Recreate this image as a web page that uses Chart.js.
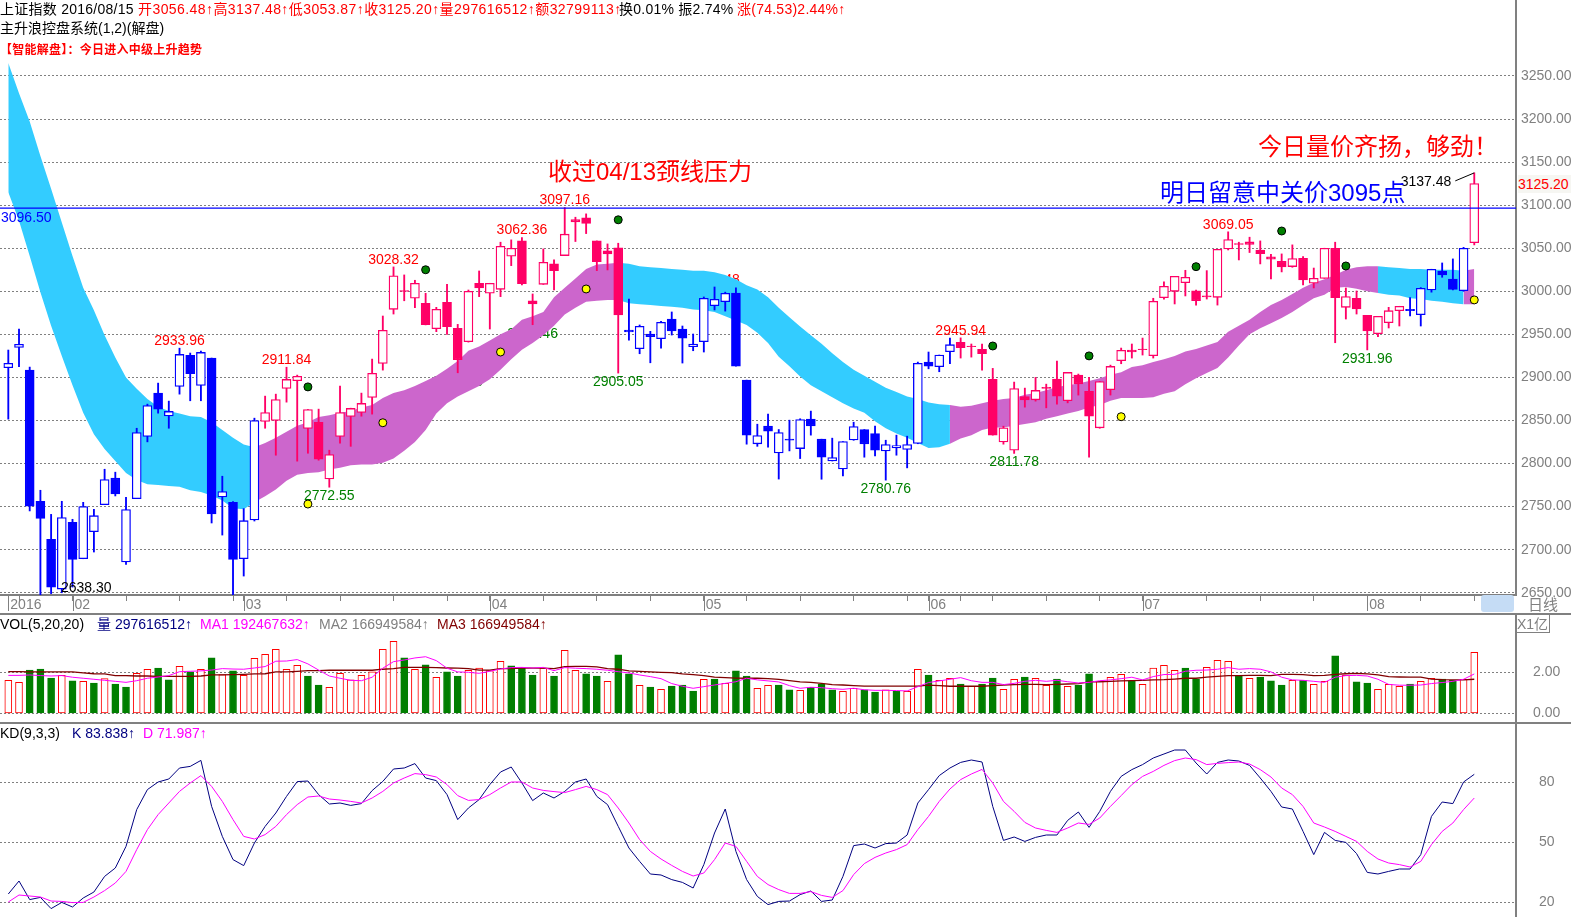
<!DOCTYPE html>
<html>
<head>
<meta charset="utf-8">
<title>上证指数 2016/08/15</title>
<script src="https://cdn.jsdelivr.net/npm/chart.js@4"></script>
<style>
html, body { margin: 0; padding: 0; background: #fff; overflow: hidden; }
body { width: 1571px; height: 917px; position: relative; font: 14px "Liberation Sans", "Noto Sans CJK SC", sans-serif; }
canvas { position: absolute; left: 0; display: block; }
.t { position: absolute; white-space: pre; line-height: 18px; height: 18px; color: #000; }
.big { font-size: 24px; line-height: 30px; height: 30px; }
.red { color: #f00; } .blue { color: #00f; } .navy { color: #000080; } .mag { color: #f0f; }
.gray { color: #808080; } .brown { color: #800000; }
.rule { position: absolute; background: #808080; }
</style>
</head>
<body>
<canvas id="mainChart" width="1571" height="614" style="top:0"></canvas>
<canvas id="volChart" width="1571" height="109" style="top:614px"></canvas>
<canvas id="kdChart" width="1571" height="194" style="top:723px"></canvas>

<div class="rule" style="left:0;top:613px;width:1571px;height:2px"></div>
<div class="rule" style="left:0;top:722px;width:1571px;height:2px"></div>
<div style="position:absolute;left:1481px;top:595px;width:33px;height:17px;background:#c5dcf5;border-radius:3px"></div>

<div class="t" style="left:0;top:0;letter-spacing:.25px">上证指数 2016/08/15</div>
<div class="t red" style="left:138px;top:0;letter-spacing:.42px">开3056.48↑高3137.48↑低3053.87↑收3125.20↑量297616512↑额32799113↑</div>
<div class="t" style="left:619px;top:0;letter-spacing:.25px">换0.01% 振2.74%</div>
<div class="t red" style="left:737px;top:0;letter-spacing:.25px">涨(74.53)2.44%↑</div>
<div class="t" style="left:0;top:19px">主升浪控盘系统(1,2)(解盘)</div>
<div class="t red" style="left:0;top:41px;font-size:12px;font-weight:bold;letter-spacing:.25px">【智能解盘】：今日进入中级上升趋势</div>

<div class="t big red" style="left:548px;top:157px">收过04/13颈线压力</div>
<div class="t big red" style="left:1258px;top:132px">今日量价齐扬，够劲！</div>
<div class="t big blue" style="left:1160px;top:178px">明日留意中关价3095点</div>
<div class="t red" style="left:1518px;top:175px;width:53px;background:#f6f6f2">3125.20</div>
<div class="t gray" style="left:1528px;top:596px;font-size:15px">日线</div>
<div class="t gray" style="left:1517px;top:615px;height:17px;width:32px;border:1px solid #808080;border-left:0;border-top:0">X1亿</div>

<div class="t" style="left:0;top:615px">VOL(5,20,20)</div>
<div class="t navy" style="left:97px;top:615px">量 297616512↑</div>
<div class="t mag" style="left:200px;top:615px">MA1 192467632↑</div>
<div class="t gray" style="left:319px;top:615px">MA2 166949584↑</div>
<div class="t brown" style="left:437px;top:615px">MA3 166949584↑</div>
<div class="t" style="left:0;top:724px">KD(9,3,3)</div>
<div class="t navy" style="left:72px;top:724px">K 83.838↑</div>
<div class="t mag" style="left:143px;top:724px">D 71.987↑</div>

<script>
// daily candles, index 0 = first session of 2016
var opens = [2911.2,2934.9,2908.5,2756.2,2712,2654.3,2731.8,2689.5,2720.9,2752.3,
  2783,2685.7,2759.3,2831.4,2881.8,2855.4,2889.5,2925.6,2890.7,2922.5,
  2761.2,2755,2689.5,2734.5,2848.8,2850,2887.2,2896.1,2840.7,2848,
  2782.2,2831.4,2854.7,2859.3,2876.7,2916.3,2979.1,3000.8,2991.9,2986,
  2956.6,2987.2,2957,2941.5,3009.3,2997.7,3002.3,3040.7,3058.5,2988.8,
  3008.1,3031.8,3041.5,3083.3,3085.3,3058.5,3046.9,3050.4,2955,2933.3,
  2950.4,2945,2967.8,2956.2,2935.7,2941.5,2983.3,2988,2998,2896.9,
  2822.9,2843.4,2812.4,2828.3,2817.4,2851.6,2828.3,2803.1,2793.8,2827.5,
  2839.5,2834.9,2814.7,2818.2,2816.3,2823.3,2917.8,2912.4,2929.8,2940.7,
  2936.4,2932.6,2897.7,2825.2,2815.5,2877.9,2874,2888.4,2898,2872.9,
  2902.7,2884,2841.5,2885.7,2919.4,2931.8,2933,2925.2,2992.6,3000,
  3010,3000.4,2994.6,2993,3049.2,3055.4,3057.4,3048,3039.9,3034.9,
  3028.7,3038.4,3009.3,3015,3050,2981.4,2991.9,2972,2950.8,2963.6,
  2977.5,2979,2972.9,3001.6,3023.6,3014.3,3000.8,3056.48];
var closes = [2916.3,2938.4,2750.4,2736.4,2656.6,2737.2,2688.8,2750,2739.5,2781.4,
  2764.7,2746.5,2836,2867.4,2863.2,2860.5,2926.7,2904.3,2929,2741.5,
  2767.4,2688.8,2733.7,2850,2859.3,2874.4,2897.7,2901.2,2862.8,2805,
  2810.5,2859.3,2864,2869.8,2904.7,2954.7,3018.1,3000,3009.3,2961.2,
  2979,2959,2920.5,3000,3003.9,3009.3,3052.3,3050,3008.9,2985.3,
  3033.7,3024,3066.3,3080.6,3078.7,3034.5,3043.4,2972.5,2952.7,2959.3,
  2947.3,2964,2953.9,2945.7,2938.8,2991.9,2990.7,2997.7,2913.2,2833,
  2832.6,2837.6,2836,2827.1,2851.2,2843.8,2807.4,2807,2825.6,2843,
  2822.9,2815.5,2822.1,2821,2822.1,2916.3,2913.2,2926,2938,2934.5,
  2935.7,2927.5,2833,2841.5,2887.2,2874,2884.9,2887.2,2878.3,2905.8,
  2892.6,2855,2895.3,2912.8,2931.4,2929.5,2932.2,2988.4,3005.8,3017.4,
  3016.3,2989,2993.4,3048.8,3060,3054.3,3054.3,3043.8,3037.2,3028.3,
  3038,3013.2,3015,3050,2992.6,2993.8,2979.5,2953.9,2970.9,2977.5,
  2982.6,2977.5,3003.5,3025.6,3019,3002.3,3050,3125.2];
var highs = [2931.8,2956.2,2912,2769,2741,2756.2,2735.3,2755,2746.9,2793.4,
  2790,2760.9,2841,2869,2893.4,2872.5,2933.96,2928.3,2930.6,2922.5,
  2785.3,2755.8,2747.7,2852.7,2878.3,2880.6,2911.84,2902.7,2862.8,2863.2,
  2815.5,2889.9,2864.3,2881.8,2921.3,2971.3,3028.32,3019,3012.8,2997.7,
  2981.4,3008,2961.6,3001.5,3023.6,3009.3,3057,3059.7,3062.36,2996.9,
  3049.2,3036.4,3097.16,3086,3089.9,3058.5,3055,3055.8,2991,2960.9,
  2953.5,2965,2976,2959.7,2950.4,2993.4,3005,2999,3003.9,2896.9,
  2845.7,2857.4,2839.5,2850.4,2852,2860.9,2828.3,2829.5,2825.6,2848,
  2839.5,2843.4,2827.1,2833,2831.8,2917.8,2929.5,2926,2945.7,2945.94,
  2938.8,2938.8,2910.5,2843.4,2894.6,2887.6,2900,2892.2,2919,2905.8,
  2903.9,2900,2895.3,2914.3,2934.1,2938.8,2945.7,2991.9,3010.9,3017.4,
  3024.4,3001.5,3024,3048.8,3069.05,3057,3062.8,3058.5,3043,3043.4,
  3053.9,3040.3,3027,3050,3057,3003.9,3000.4,2972,2970.9,2981.4,
  2982.6,2992.6,3004.3,3025.6,3032.9,3037.6,3051,3137.48];
var lows = [2851.6,2912.4,2745,2638.3,2649,2650,2656.6,2689.5,2697.3,2752.3,
  2762.4,2683,2759.3,2825.2,2858.5,2841,2880.6,2872.9,2872.9,2731,
  2717,2643,2669.4,2733.3,2841,2809.7,2871.3,2802.8,2812,2803.9,
  2772.55,2823.6,2820,2855,2857.4,2908.5,2973.6,2989,2981,2961,
  2953.1,2950,2905.4,2941,2993.8,2956.2,2993.8,3029.8,3007.4,2961.2,
  3008,3001.6,3041.5,3057.8,3067,3024,3024.8,2905.05,2943.4,2927.5,
  2917,2934.1,2949.2,2916.7,2931,2929.5,2978.3,2977,2913,2822.5,
  2820,2819,2782,2814.7,2805.8,2833,2781.8,2803,2785.7,2827,
  2807.4,2808.9,2780.76,2809.7,2795,2823,2910,2906.6,2915.9,2922.5,
  2923.6,2908.5,2833,2822.5,2811.78,2865.5,2872.5,2864.7,2869,2870.5,
  2879.5,2807.4,2841,2879.5,2915.9,2922.5,2926,2922.5,2991,2985.3,
  2994.6,2984,2991,2984,3048,3036.4,3045,3031.8,3014.3,3022.5,
  3027.9,3007.4,3003.9,3015,2940.3,2967.8,2973.6,2931.96,2947.3,2957.4,
  2959.7,2971.3,2959.7,2999,3016.3,3001.6,3000,3053.87];

// the wide trend band
var bandTop = [3265,3230,3197,3157,3119,3080,3041,3004,2978,2949,2923,2900,2887,2875,2866,2861,2858,2855,2854,2848,
  2839,2830,2822,2819,2824,2830,2837,2844,2848,2854,2856,2859,2861,2865,2868,2876,2882,2885,2890,2896,
  2902,2910,2919,2931,2936,2943,2950,2956,2967,2971,2976,2993,3004,3015,3026,3031,3032,3033,3032,3029,
  3028,3027,3026,3025,3024,3024,3022,3019,3014,3007,3002,2993,2981,2970,2959,2949,2939,2928,2918,2909,
  2902,2895,2888,2883,2878,2875,2871,2869,2868,2866,2867,2870,2873,2875,2876,2880,2882,2885,2889,2891,
  2893,2896,2899,2903,2906,2912,2914,2918,2921,2925,2930,2933,2937,2941,2953,2960,2967,2976,2984,2990,
  2997,3004,3010,3014,3019,3025,3028,3029,3029,3028,3027,3026,3026,3025,3025,3025,3024,3026];
var bandBot = [3115,3082,3041,2999,2960,2925,2891,2859,2834,2817,2803,2789,2781,2776,2775,2774,2773,2769,2767,2763,
  2757,2748,2747,2755,2762,2770,2780,2787,2789,2790,2793,2795,2798,2799,2799,2801,2806,2815,2825,2839,
  2858,2870,2878,2884,2890,2898,2909,2921,2932,2940,2949,2960,2973,2981,2988,2989,2990,2990,2986,2985,
  2984,2983,2982,2981,2979,2978,2976,2971,2966,2961,2952,2940,2924,2913,2901,2891,2884,2877,2870,2864,
  2859,2849,2841,2835,2830,2824,2818,2819,2823,2829,2833,2839,2842,2842,2844,2846,2848,2852,2855,2858,
  2861,2865,2868,2873,2876,2876,2876,2877,2881,2884,2892,2899,2905,2911,2923,2937,2950,2957,2963,2969,
  2976,2984,2992,2996,3004,3005,3003,3000,2998,2996,2995,2992,2991,2989,2988,2986,2985,2985];
var bandRanges = [[0,23,'#33ccff'],[23,57,'#cc66cc'],[57,88,'#33ccff'],[88,128,'#cc66cc'],[128,136,'#33ccff'],[136,137,'#cc66cc']];
var candleRanges = [[0,23,'#0000ff'],[24,57,'#ff0066'],[58,88,'#0000ff'],[89,130,'#ff0066'],[131,136,'#0000ff'],[137,137,'#ff0066']];

var greenDotIdx = [28,39,57,92,101,111,119,125];
var greenDotVal = [2889,3025,3083,2936.5,2925,3028.6,3070,3029.4];
var yellowDotIdx = [28,35,46,54,104,137];
var yellowDotVal = [2753,2847.4,2929.5,3002.7,2854.4,2990];
var pivotLine = 3096.5;

var highLabelIdx = [16,26,36,48,52,66,89,114];
var highLabelText = ['2933.96','2911.84','3028.32','3062.36','3097.16','3005.48','2945.94','3069.05'];
var lowLabelIdx = [30,42,49,57,82,94,127];
var lowLabelText = ['2772.55','2905.40','2961.46','2905.05','2780.76','2811.78','2931.96'];

// volume, in 100 million
var volumes = [1.61,1.51,2.11,2.16,1.72,1.85,1.58,1.56,1.48,1.69,1.43,1.28,1.95,2.15,2.21,1.63,2.29,2.02,2.15,2.70,
  1.89,2.07,1.85,2.68,2.88,3.12,2.15,2.34,1.82,1.38,1.27,1.95,1.63,1.85,2.02,3.12,3.51,2.70,2.15,2.36,
  1.76,2.02,1.82,2.10,2.20,2.08,2.54,2.31,2.20,1.87,2.20,1.82,3.07,2.10,1.92,1.82,1.56,2.85,1.92,1.37,
  1.28,1.17,1.33,1.38,1.09,1.66,1.67,1.46,2.07,1.82,1.22,1.37,1.38,1.14,1.12,1.27,1.43,1.14,1.07,1.22,
  1.14,1.04,1.14,1.09,1.07,2.15,1.87,1.61,1.71,1.43,1.32,1.43,1.72,1.17,1.66,1.77,1.71,1.37,1.67,1.32,
  1.38,1.92,1.56,1.76,1.90,1.56,1.41,2.20,2.34,2.10,2.21,1.67,2.24,2.59,2.54,1.82,1.71,1.77,1.58,1.38,
  1.61,1.61,1.41,1.56,2.80,1.85,1.53,1.48,1.17,1.41,1.32,1.43,1.56,1.71,1.67,1.61,1.66,2.98];
var volUp = [1,1,0,0,0,1,0,1,0,1,0,0,1,1,0,0,1,0,1,0,1,0,1,1,1,1,1,1,0,0,1,1,1,1,1,1,1,0,1,0,1,0,0,1,1,1,1,0,
  0,0,1,0,1,1,0,0,1,0,0,1,0,1,0,0,0,1,0,1,0,0,1,1,0,0,1,0,0,0,1,1,0,0,1,0,1,1,0,1,1,0,1,0,0,1,1,0,1,
  1,0,1,0,0,1,1,1,0,1,1,1,1,0,0,1,1,1,0,1,0,0,0,1,0,1,1,0,1,0,0,1,1,1,0,1,1,0,0,1,1];
var ma1 = [1.85,1.85,1.87,1.84,1.82,1.84,1.76,1.71,1.66,1.61,1.56,1.51,1.59,1.71,1.77,1.84,2.03,2.05,2.07,2.11,
  2.18,2.16,2.15,2.21,2.28,2.54,2.55,2.62,2.41,2.11,1.82,1.71,1.61,1.59,1.76,2.20,2.52,2.60,2.70,2.76,
  2.57,2.20,2.02,2.00,1.95,2.05,2.16,2.23,2.24,2.21,2.24,2.08,2.23,2.20,2.18,2.15,2.10,2.03,1.97,1.87,
  1.79,1.69,1.45,1.32,1.22,1.30,1.38,1.46,1.54,1.71,1.63,1.58,1.53,1.35,1.22,1.27,1.25,1.20,1.17,1.22,
  1.15,1.12,1.12,1.11,1.09,1.30,1.50,1.58,1.66,1.74,1.59,1.51,1.51,1.40,1.46,1.56,1.61,1.56,1.61,1.54,
  1.48,1.51,1.59,1.63,1.69,1.76,1.63,1.79,1.89,1.90,2.05,2.10,2.11,2.15,2.23,2.15,2.18,2.15,2.02,1.76,
  1.63,1.61,1.56,1.51,1.76,1.84,1.85,1.82,1.66,1.41,1.37,1.37,1.38,1.45,1.50,1.56,1.66,1.92];
var ma3 = [2.03,2.03,2.02,2.02,2.02,2.02,2.02,1.97,1.93,1.92,1.84,1.84,1.82,1.82,1.80,1.80,1.80,1.80,1.82,1.87,
  1.87,1.89,1.90,1.92,1.93,2.02,2.02,2.05,2.08,2.08,2.10,2.11,2.10,2.10,2.10,2.15,2.18,2.24,2.24,2.24,
  2.23,2.21,2.20,2.18,2.11,2.11,2.18,2.18,2.21,2.20,2.20,2.18,2.28,2.29,2.29,2.26,2.18,2.15,2.07,2.05,
  2.02,2.00,1.98,1.92,1.89,1.84,1.76,1.74,1.72,1.71,1.71,1.69,1.66,1.59,1.53,1.51,1.46,1.40,1.38,1.35,
  1.33,1.33,1.33,1.33,1.33,1.33,1.37,1.35,1.32,1.32,1.32,1.32,1.35,1.38,1.40,1.41,1.41,1.40,1.41,1.43,
  1.45,1.53,1.54,1.56,1.58,1.59,1.61,1.63,1.64,1.67,1.71,1.71,1.76,1.80,1.84,1.84,1.85,1.85,1.84,1.90,
  1.90,1.89,1.84,1.85,1.90,1.93,1.95,1.92,1.87,1.79,1.77,1.76,1.76,1.67,1.64,1.63,1.63,1.66];

var kLine = [24.0,30.5,21.2,22.3,16.7,19.8,17.5,22,25,32.8,37,47.8,66.2,76.2,80,81.5,87,87.8,90.8,67.8,
  52.8,41.2,38.2,49.5,57.8,64.5,72.8,80.2,80.5,73.7,69,69.5,68.3,69.2,75.7,80.3,86.5,87,89.2,82,
  80.7,73.7,61.2,67,71.2,78.7,85,87.5,79.5,70.7,74.5,72,75.3,80,81.5,72.8,68.7,57.8,47,40.3,
  34,33.5,31.2,29.8,27,38.7,54.5,66.5,45.3,31.2,22.8,18.7,20.3,20.5,23.7,25.5,20.3,21,32.8,48.2,
  49,47,49.2,49.5,53.5,69.5,76.2,83.2,87,89.8,91,90,67.8,50.8,52.5,50.3,52.3,53.5,53.5,60.8,
  65,57.3,65.3,75.3,82.8,86.2,88.7,92,94,96,96,89.5,84,89.8,91,90.5,88.3,82,75.3,67.5,
  66.5,55.3,43.7,54.8,50.8,49.8,44.2,34.8,34,35.3,36.5,36.5,43.7,62.8,70,69.2,80,83.84];
var dLine = [20,23.5,23,22.5,20.5,20.3,19.7,19.8,22.5,25.7,29.5,35.3,46.2,56.2,63.7,69.5,75.3,79.5,83.2,77.8,
  70.3,61.2,52.8,51.5,53.7,57.8,63.7,68.7,72.5,73,71.5,71,70.3,69.5,72,75.3,79.5,82,84.2,83.7,
  82.5,78.7,73.2,70.8,71.2,73.7,77,80,80,77,75.8,75.2,74.7,76.2,77.8,76.2,73.7,67,59.5,51.2,
  45.3,41.5,38.3,35.3,33,34.5,41.2,49.5,47.8,40.3,32.8,28.7,26.2,24.3,24.3,25.2,23.3,22.3,25.7,33.7,
  39.2,42.3,44.5,46.2,48.7,56.2,62.8,70.3,76.5,81.2,84,86.3,79.5,70.3,65.3,59.8,57,55.8,54.8,57,
  59.5,58.8,62,67.8,73.2,78.7,82.8,85.3,88.3,90.7,92,91.2,88.7,89.3,89.7,90,89,86.2,82.5,77,
  73.7,67.8,59.5,57.5,55.3,52.8,50.3,45.3,41.5,39.5,38.7,37.5,40.3,48.7,55.3,59.5,66.2,71.99];

// axes
var priceTicks = [2650,2700,2750,2800,2850,2900,2950,3000,3050,3100,3150,3200,3250];
var volTicks = [0,2];
var kdTicks = [20,50,80];
var monthIdx = [0,6,22,45,65,86,106,127];
var monthText = ['2016','02','03','04','05','06','07','08'];
var weekIdx = [1,11,16,21,26,31,36,41,50,55,60,69,74,79,84,89,92,97,102,112,117,122,132,137];

var grayC = '#808080';
var axisFont = { family: '"Liberation Sans", sans-serif', size: 14 };
var xMin = -0.776, xMax = 140.9;

function colorFor(ranges, i) {
    for (var r = 0; r < ranges.length; r++) {
        if (i >= ranges[r][0] && i <= ranges[r][1]) return ranges[r][2];
    }
    return '#000';
}
function pts(arr) {
    return arr.map(function (v, i) { return { x: i, y: v }; });
}
// the plot has to fill its canvas, so drop the room chart.js keeps for end labels
function noPadding(s) {
    s.paddingTop = 0; s.paddingBottom = 0; s.paddingLeft = 0; s.paddingRight = 0;
}
function rightAxis(min, max, ticks, pad, fmt) {
    return {
        position: 'right', min: min, max: max,
        afterBuildTicks: function (s) { s.ticks = ticks.map(function (v) { return { value: v }; }); },
        afterFit: function (s) { s.width = 55; noPadding(s); },
        grid: { color: grayC, drawTicks: false },
        border: { color: grayC, width: 2, dash: [2, 2] },
        ticks: { color: grayC, font: axisFont, padding: pad, autoSkip: false, callback: fmt }
    };
}
var hiddenX = { type: 'linear', min: xMin, max: xMax, offset: false, display: false };
var baseOpts = {
    responsive: false, animation: false, devicePixelRatio: 1, events: [],
    layout: { padding: 0, autoPadding: false },
    plugins: { legend: { display: false }, tooltip: { enabled: false } }
};

// ---- candles + band ----
var datasets = [];
bandRanges.forEach(function (r) {
    var s = r[0], e = r[1] + 1;
    datasets.push({ type: 'line', data: pts(bandTop).slice(s, e), backgroundColor: r[2], borderWidth: 0, pointRadius: 0, tension: 0, fill: '+1', order: 10 });
    datasets.push({ type: 'line', data: pts(bandBot).slice(s, e), borderWidth: 0, pointRadius: 0, tension: 0, fill: false, order: 10 });
});
var candleColors = opens.map(function (o, i) { return colorFor(candleRanges, i); });
datasets.push({
    type: 'bar', grouped: false, barThickness: 1.2, order: 5,
    data: highs.map(function (h, i) { return { x: i, y: [lows[i], h] }; }),
    backgroundColor: candleColors, borderWidth: 0
});
datasets.push({
    type: 'bar', grouped: false, barThickness: 9, order: 4, borderSkipped: false,
    data: opens.map(function (o, i) { return { x: i, y: [o, closes[i]] }; }),
    backgroundColor: opens.map(function (o, i) { return closes[i] >= o ? '#fff' : candleColors[i]; }),
    borderColor: candleColors, borderWidth: 1.3
});
function dots(idx, vals, color) {
    return {
        type: 'line', showLine: false, order: 3, pointRadius: 4, pointBackgroundColor: color,
        pointBorderColor: '#000', pointBorderWidth: 1,
        data: idx.map(function (x, k) { return { x: x, y: vals[k] }; })
    };
}
datasets.push(dots(greenDotIdx, greenDotVal, '#008000'));
datasets.push(dots(yellowDotIdx, yellowDotVal, '#ffff00'));
datasets.push({
    type: 'line', order: 1, pointRadius: 0, borderColor: '#0000ff', borderWidth: 1.2,
    data: [{ x: xMin, y: pivotLine }, { x: xMax, y: pivotLine }]
});

var mainLabels = {
    id: 'mainLabels',
    // these sit under the band, it covers some of them like in the original
    beforeDatasetsDraw: function (chart) {
        var c = chart.ctx, sx = chart.scales.x, sy = chart.scales.y;
        c.save();
        c.font = '14px "Liberation Sans"';
        c.textAlign = 'center';
        c.textBaseline = 'middle';
        c.fillStyle = '#ff0000';
        highLabelIdx.forEach(function (i, k) {
            c.fillText(highLabelText[k], sx.getPixelForValue(i), sy.getPixelForValue(highs[i]) - 7);
        });
        c.fillStyle = '#008000';
        lowLabelIdx.forEach(function (i, k) {
            c.fillText(lowLabelText[k], sx.getPixelForValue(i), sy.getPixelForValue(lows[i]) + 9);
        });
        c.restore();
    },
    afterDatasetsDraw: function (chart) {
        var c = chart.ctx, sx = chart.scales.x, sy = chart.scales.y;
        var hx = sx.getPixelForValue(137), hy = sy.getPixelForValue(highs[137]);
        c.save();
        c.strokeStyle = '#000';
        c.lineWidth = 1;
        c.beginPath();
        c.moveTo(hx, hy);
        c.lineTo(hx - 19, hy + 8);
        c.stroke();
        c.font = '14px "Liberation Sans"';
        c.textBaseline = 'middle';
        c.fillStyle = '#000';
        c.textAlign = 'right';
        c.fillText('3137.48', hx - 23, hy + 9);
        c.textAlign = 'center';
        c.fillText('2638.30', sx.getPixelForValue(7) + 3, chart.chartArea.bottom - 7);
        c.fillStyle = '#0000ff';
        c.textAlign = 'left';
        c.fillText('3096.50', 1, sy.getPixelForValue(pivotLine) + 10);
        // long ticks on the month starts
        c.strokeStyle = grayC;
        c.beginPath();
        monthIdx.forEach(function (i) {
            var px = Math.round(sx.getPixelForValue(i)) + 0.5;
            c.moveTo(px, chart.chartArea.bottom);
            c.lineTo(px, chart.chartArea.bottom + 16);
        });
        c.stroke();
        c.restore();
    }
};

new Chart(document.getElementById('mainChart'), {
    type: 'bar',
    data: { datasets: datasets },
    plugins: [mainLabels],
    options: Object.assign({}, baseOpts, {
        scales: {
            x: {
                type: 'linear', min: xMin, max: xMax, offset: false,
                afterBuildTicks: function (s) {
                    s.ticks = monthIdx.concat(weekIdx).sort(function (a, b) { return a - b; }).map(function (v) { return { value: v }; });
                },
                afterFit: function (s) { s.height = 19; noPadding(s); },
                grid: { drawOnChartArea: false, tickLength: 6, tickColor: grayC, offset: false },
                border: { color: grayC, width: 2 },
                ticks: {
                    color: grayC, font: axisFont, padding: -4, labelOffset: 2, align: 'start',
                    autoSkip: false, maxRotation: 0, minRotation: 0,
                    callback: function (v) { var m = monthIdx.indexOf(v); return m < 0 ? '' : monthText[m]; }
                }
            },
            y: rightAxis(2647.4, 3338.2, priceTicks, 5, function (v) { return v.toFixed(2); })
        }
    })
});

// ---- volume ----
new Chart(document.getElementById('volChart'), {
    type: 'bar',
    data: {
        datasets: [
            { type: 'line', order: 1, data: pts(ma1), borderColor: '#ff00ff', borderWidth: 1, pointRadius: 0, tension: 0 },
            { type: 'line', order: 2, data: pts(ma3), borderColor: '#800000', borderWidth: 1.3, pointRadius: 0, tension: 0 },
            {
                type: 'bar', order: 3, barThickness: 7, data: pts(volumes), borderSkipped: false, borderWidth: 1,
                backgroundColor: volUp.map(function (u) { return u ? '#fff' : '#007f00'; }),
                borderColor: volUp.map(function (u) { return u ? '#ff0000' : '#007f00'; })
            }
        ]
    },
    options: Object.assign({}, baseOpts, {
        scales: {
            x: hiddenX,
            y: rightAxis(-0.473, 4.844, volTicks, 17, function (v) { return v.toFixed(2); })
        }
    })
});

// ---- KD ----
new Chart(document.getElementById('kdChart'), {
    type: 'line',
    data: {
        datasets: [
            { data: pts(dLine), borderColor: '#ff00ff', borderWidth: 1, pointRadius: 0, tension: 0 },
            { data: pts(kLine), borderColor: '#000080', borderWidth: 1, pointRadius: 0, tension: 0 }
        ]
    },
    options: Object.assign({}, baseOpts, {
        scales: {
            x: hiddenX,
            y: rightAxis(12.5, 109.5, kdTicks, 23, function (v) { return String(v); })
        }
    })
});
</script>
</body>
</html>
